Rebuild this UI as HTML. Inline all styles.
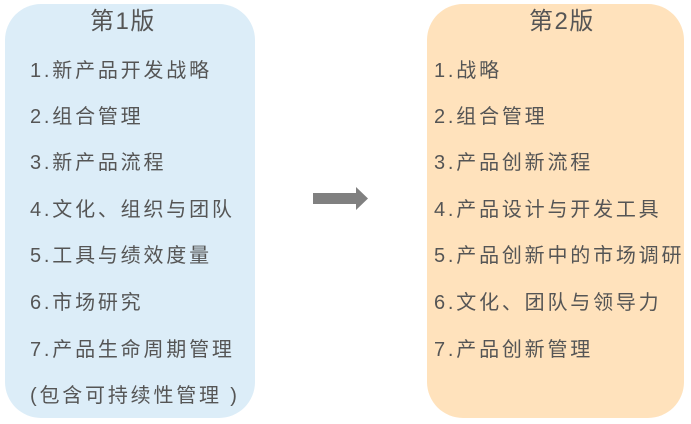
<!DOCTYPE html><html><head><meta charset="utf-8"><style>
body{margin:0;width:691px;height:424px;background:#fff;position:relative;overflow:hidden;font-family:"Liberation Sans","Noto Sans CJK SC",sans-serif;color:#555}
.box{position:absolute;top:4px;height:414px;border-radius:36px}
.t{position:absolute;font-size:24px;line-height:28px;white-space:nowrap;letter-spacing:1.5px}
.i{position:absolute;font-size:20px;line-height:24px;white-space:nowrap;letter-spacing:2.8px}
</style></head><body>
<div class="box" style="left:5px;width:250px;background:#dcedf8"></div>
<div class="box" style="left:427px;width:257px;background:#ffe2bc"></div>
<div class="t" style="left:90px;top:8px">第1版</div>
<div class="t" style="left:529px;top:8px">第2版</div>
<div class="i" style="left:30px;top:59px">1.新产品开发战略</div>
<div class="i" style="left:30px;top:105px">2.组合管理</div>
<div class="i" style="left:30px;top:151px">3.新产品流程</div>
<div class="i" style="left:30px;top:198px">4.文化、组织与团队</div>
<div class="i" style="left:30px;top:244px">5.工具与绩效度量</div>
<div class="i" style="left:30px;top:291px">6.市场研究</div>
<div class="i" style="left:30px;top:338px">7.产品生命周期管理</div>
<div class="i" style="left:30px;top:384px">(包含可持续性管理 )</div>
<div class="i" style="left:434px;top:59px">1.战略</div>
<div class="i" style="left:434px;top:105px">2.组合管理</div>
<div class="i" style="left:434px;top:151px">3.产品创新流程</div>
<div class="i" style="left:434px;top:198px">4.产品设计与开发工具</div>
<div class="i" style="left:434px;top:244px">5.产品创新中的市场调研</div>
<div class="i" style="left:434px;top:291px">6.文化、团队与领导力</div>
<div class="i" style="left:434px;top:338px">7.产品创新管理</div>
<svg style="position:absolute;left:0;top:0" width="691" height="424"><polygon points="313,193 356,193 356,187 368,198.5 356,210 356,204 313,204" fill="#808080"/></svg>
</body></html>
